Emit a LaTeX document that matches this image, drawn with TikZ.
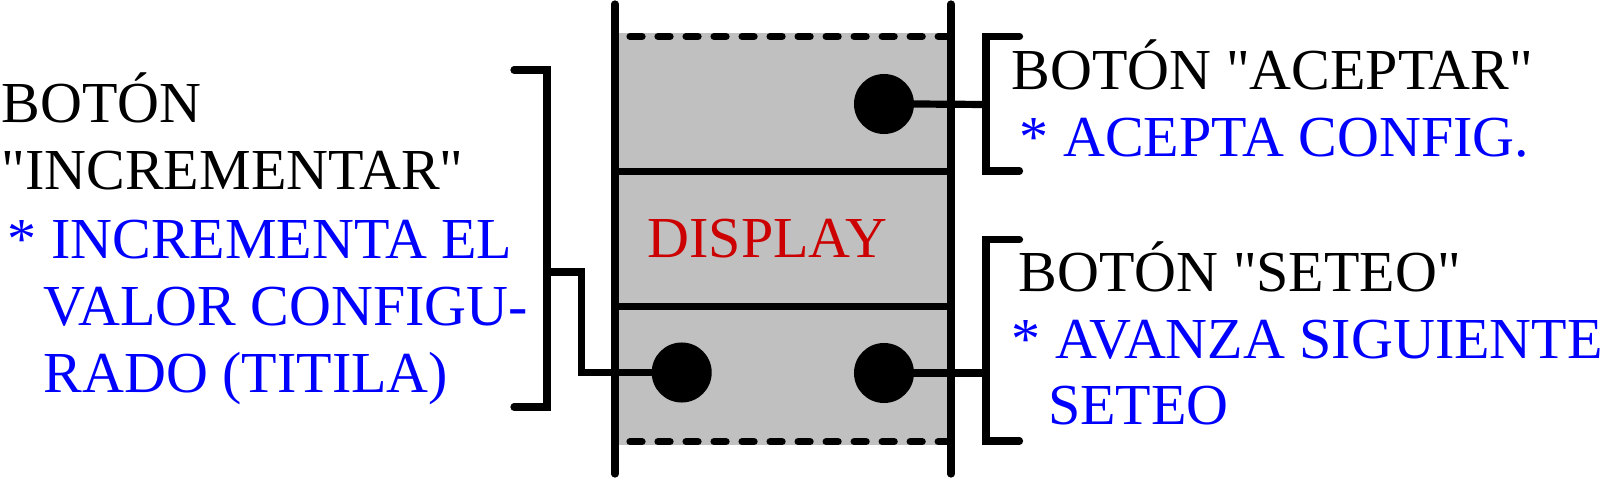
\documentclass[tikz,border=0pt]{standalone}
\usepackage{fontspec}
\setmainfont{Liberation Serif}
\newfontfamily\tnr{Liberation Serif}
\newcommand{\dq}{\symbol{34}}
\definecolor{boxgray}{RGB}{192,192,192}
\definecolor{dispred}{RGB}{204,0,0}
\definecolor{txtblue}{RGB}{0,0,255}
\begin{document}
\begin{tikzpicture}[x={(0.01cm,0)},y={(0,-0.01cm)},
  ln/.style={line width=0.072cm,line cap=round,line join=miter},
  dashln/.style={line width=0.072cm,line cap=round,dash pattern=on 0.12cm off 0.16cm,dash phase=0.13cm},
  dot/.style={circle,fill=black,inner sep=0pt,minimum size=0.6cm},
  lbl/.style={anchor=base west,inner sep=0pt,font=\tnr\fontsize{16.5}{19.2}\selectfont},
  desc/.style={lbl,text=txtblue}]
\useasboundingbox (0,0) rectangle (1611,479);
% panel
\fill[boxgray] (615,33) rectangle (951,445);
\draw[dashln] (615,36.5) -- (951,36.5);
\draw[dashln] (615,441.7) -- (951,441.7);
\draw[ln] (615,171.5) -- (951,171.5);
\draw[ln] (615,306.5) -- (951,306.5);
\draw[ln] (615,4) -- (615,474);
\draw[ln] (951,4) -- (951,474);
\node[lbl,text=dispred] (disp) at (647,257.7) {DISPLAY};
% buttons
\node[dot] (d1) at (884,104) {};
\node[dot] (d2) at (681.7,372.5) {};
\node[dot] (d3) at (884,373) {};
% left bracket
\coordinate (lb) at (547,272);
\coordinate (lk) at (581.7,272);
\draw[ln] (514,70) -| (547,407) -- (514,407);
\draw[ln] (lb) -- (lk) |- (d2.west);
% right brackets
\coordinate (rb1) at (986,104.5);
\coordinate (rb2) at (986,373);
\draw[ln] (1019.5,36.3) -| (986,171) -- (1019.5,171);
\draw[ln] (1019.5,239.7) -| (986,441) -- (1019.5,441);
\draw[ln] (d1.east) -- (rb1);
\draw[ln] (d3.east) -- (rb2);
% left text
\node[lbl] (l1) at (1,122.7) {BOTÓN};
\node[lbl] (l2) at (1,190) {\dq INCREMENTAR\dq};
\node[desc] (l3) at (7,258.3) {* INCREMENTA EL};
\node[desc] (l4) at (43,326) {VALOR CONFIGU-};
\node[desc] (l5) at (43,392.7) {RADO (TITILA)};
% right text
\node[lbl] (r1) at (1011,90) {BOTÓN \dq ACEPTAR\dq};
\node[desc] (r2) at (1019,156.7) {* ACEPTA CONFIG.};
\node[lbl] (r3) at (1018,291.7) {BOTÓN \dq SETEO\dq};
\node[desc] (r4) at (1011,358.3) {* AVANZA SIGUIENTE};
\node[desc] (r5) at (1047.5,425) {SETEO};
\end{tikzpicture}
\end{document}
